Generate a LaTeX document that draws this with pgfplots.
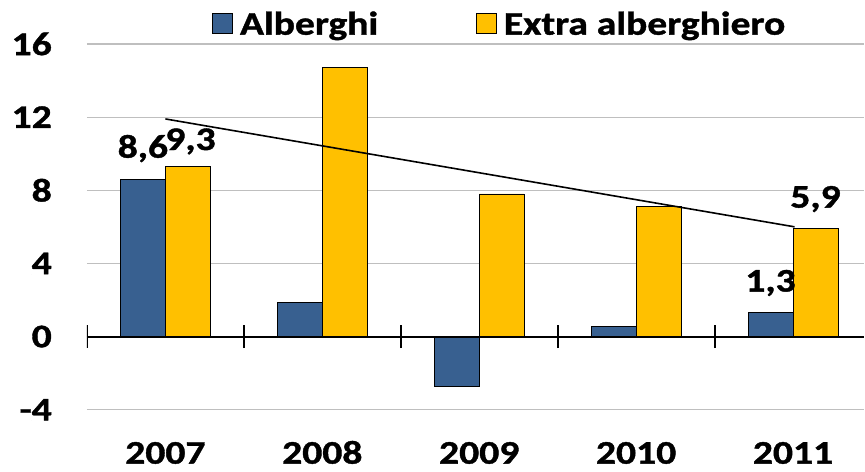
\documentclass[border=0pt]{standalone}
\usepackage{pgfplots}
\pgfplotsset{compat=1.18}
\usepackage{fontspec}
\setmainfont{Carlito}[FakeStretch=1.2, FakeBold=1.2]
\definecolor{cblue}{HTML}{386090}
\definecolor{cyellow}{HTML}{FFC000}
\definecolor{cgrid}{HTML}{BFBFBF}
\begin{document}
\begin{tikzpicture}
\begin{axis}[
  scale only axis,
  width=778pt, height=366pt,
  xmin=-0.5, xmax=4.455,
  ymin=-4, ymax=16,
  ybar=0pt, bar width=45pt,
  font=\fontsize{33}{40}\selectfont\bfseries,
  axis line style={draw=none},
  xtick={0,1,2,3,4},
  xticklabels={2007,2008,2009,2010,2011},
  ytick={-4,0,4,8,12,16},
  yticklabels={-4,0,4,8,12,16},
  major tick length=0pt,
  tick style={draw=none},
  xticklabel style={inner sep=0pt, anchor=base, yshift=-54pt},
  yticklabel style={inner sep=0pt, anchor=east, xshift=-35pt},
  ymajorgrids,
  grid style={cgrid, line width=1.2pt},
  legend columns=2,
  legend style={draw=none, fill=none, at={(0.531,1.055)}, anchor=center,
    font=\fontsize{33}{40}\selectfont\bfseries,
    /tikz/every even column/.append style={column sep=96pt},
    cells={anchor=west}, inner sep=0pt},
  legend image code/.code={\draw[#1, draw=black, line width=0.8pt] (0pt,-10pt) rectangle (20pt,10pt); \path (25pt,0pt);},
]
\addplot[fill=cblue, draw=black, line width=0.8pt] coordinates {(0,8.6) (1,1.85) (2,-2.7) (3,0.55) (4,1.3)};
\addplot[fill=cyellow, draw=black, line width=0.8pt] coordinates {(0,9.3) (1,14.7) (2,7.8) (3,7.1) (4,5.9)};
\legend{Alberghi, Extra alberghiero}
\addplot[sharp plot, black, line width=1.6pt, forget plot] coordinates {(0,11.9) (4.01,6.0)};
\draw[black, line width=2pt] (axis cs:-0.5,0) -- (axis cs:4.455,0);
\draw[black, line width=2pt] (axis cs:-0.5,0) ++(0pt,-11.5pt) -- ++(0pt,23pt);
\draw[black, line width=2pt] (axis cs:0.5,0) ++(0pt,-11.5pt) -- ++(0pt,23pt);
\draw[black, line width=2pt] (axis cs:1.5,0) ++(0pt,-11.5pt) -- ++(0pt,23pt);
\draw[black, line width=2pt] (axis cs:2.5,0) ++(0pt,-11.5pt) -- ++(0pt,23pt);
\draw[black, line width=2pt] (axis cs:3.5,0) ++(0pt,-11.5pt) -- ++(0pt,23pt);
\node[anchor=base, font=\fontsize{33}{40}\selectfont\bfseries] at (axis cs:-0.1433,9.78) {8,6};
\node[anchor=base, font=\fontsize{33}{40}\selectfont\bfseries] at (axis cs:0.16,10.2) {9,3};
\node[anchor=base, font=\fontsize{33}{40}\selectfont\bfseries] at (axis cs:3.8567,2.46) {1,3};
\node[anchor=base, font=\fontsize{33}{40}\selectfont\bfseries] at (axis cs:4.1433,7.05) {5,9};
\end{axis}
\path (current axis.south west) +(-87pt,-62pt) (current axis.north east) +(0pt,44pt);
\end{tikzpicture}
\end{document}
